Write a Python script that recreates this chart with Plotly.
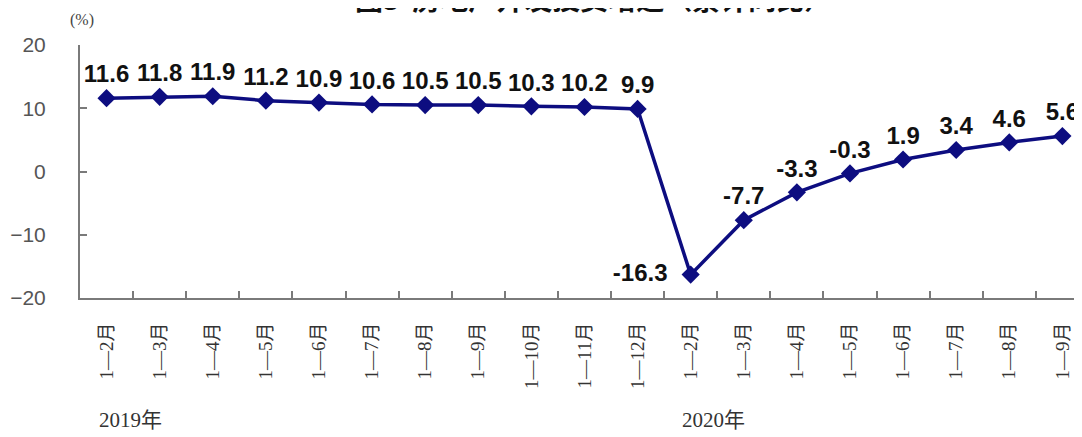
import plotly.graph_objects as go

months_2019 = ["1—2月", "1—3月", "1—4月", "1—5月", "1—6月", "1—7月", "1—8月", "1—9月", "1—10月", "1—11月", "1—12月"]
months_2020 = ["1—2月", "1—3月", "1—4月", "1—5月", "1—6月", "1—7月", "1—8月", "1—9月"]
values_2019 = [11.6, 11.8, 11.9, 11.2, 10.9, 10.6, 10.5, 10.5, 10.3, 10.2, 9.9]
values_2020 = [-16.3, -7.7, -3.3, -0.3, 1.9, 3.4, 4.6, 5.6]
y_ticks = [-20, -10, 0, 10, 20]

labels = months_2019 + months_2020
values = values_2019 + values_2020
xs = list(range(len(labels)))
texts = [f"{v:.1f}" for v in values]
text_pos = ["top center"] * len(values)
trough = len(values_2019)
text_pos[trough] = "middle left"
texts[trough] = texts[trough] + "  "

line_color = "#0d0d80"
axis_color = "#7a7a7a"
serif = "Liberation Serif, Noto Sans CJK SC, serif"

fig = go.Figure()
fig.add_trace(go.Scatter(
    x=xs, y=values, mode="lines+markers+text",
    line=dict(color=line_color, width=3.5),
    marker=dict(symbol="diamond", size=14, color=line_color),
    text=texts,
    textposition=text_pos,
    textfont=dict(family="Liberation Sans, Arial, sans-serif", size=24, color="#111111", weight="bold"),
    cliponaxis=False,
    showlegend=False,
    xaxis="x", yaxis="y",
))
fig.add_trace(go.Scatter(x=[xs[0]], y=[values[0]], mode="markers", marker=dict(opacity=0),
                         showlegend=False, hoverinfo="skip", xaxis="x2", yaxis="y"))

x_range = [-0.5, 18.52]
fig.update_layout(
    width=1082, height=437,
    margin=dict(l=72, r=0, t=37, b=147),
    paper_bgcolor="white", plot_bgcolor="white",
    xaxis=dict(
        range=x_range, tickmode="array", tickvals=xs, ticktext=labels,
        tickangle=-90, ticks="", showgrid=False, zeroline=False, automargin=False,
        showline=True, linecolor=axis_color, linewidth=2,
        tickfont=dict(family=serif, size=19, color="#333333"),
        ticklabelstandoff=15,
    ),
    xaxis2=dict(
        range=x_range, overlaying="x", side="bottom", anchor="y", automargin=False,
        tickmode="array", tickvals=[i + 0.5 for i in xs],
        ticks="inside", ticklen=7, tickwidth=1.5, tickcolor=axis_color,
        showticklabels=False, showgrid=False, zeroline=False, showline=False,
    ),
    yaxis=dict(
        range=[-20, 20], tickmode="array", tickvals=y_ticks, automargin=False,
        ticks="inside", ticklen=7, tickwidth=1.5, tickcolor=axis_color,
        showgrid=False, zeroline=False,
        showline=True, linecolor=axis_color, linewidth=2,
        tickfont=dict(family="Liberation Sans, Arial, sans-serif", size=21, color="#555555"),
        ticklabelstandoff=28,
    ),
    annotations=[
        dict(text="图3  房地产开发投资增速（累计同比）", xref="paper", yref="paper",
             x=0.508, y=1.099, xanchor="center", yanchor="bottom", showarrow=False,
             font=dict(family="Noto Sans CJK SC", size=28, color="#111111", weight="bold")),
        dict(text="(%)", xref="paper", yref="paper", x=0.002, y=1.099,
             xanchor="center", yanchor="middle", showarrow=False,
             font=dict(family=serif, size=16, color="#444444")),
        dict(text="2019年", xref="x", yref="paper", x=-0.18, y=-0.482,
             xanchor="left", yanchor="middle", showarrow=False,
             font=dict(family=serif, size=21, color="#333333")),
        dict(text="2020年", xref="x", yref="paper", x=10.8, y=-0.482,
             xanchor="left", yanchor="middle", showarrow=False,
             font=dict(family=serif, size=21, color="#333333")),
    ],
)

fig.write_html("out.html")
